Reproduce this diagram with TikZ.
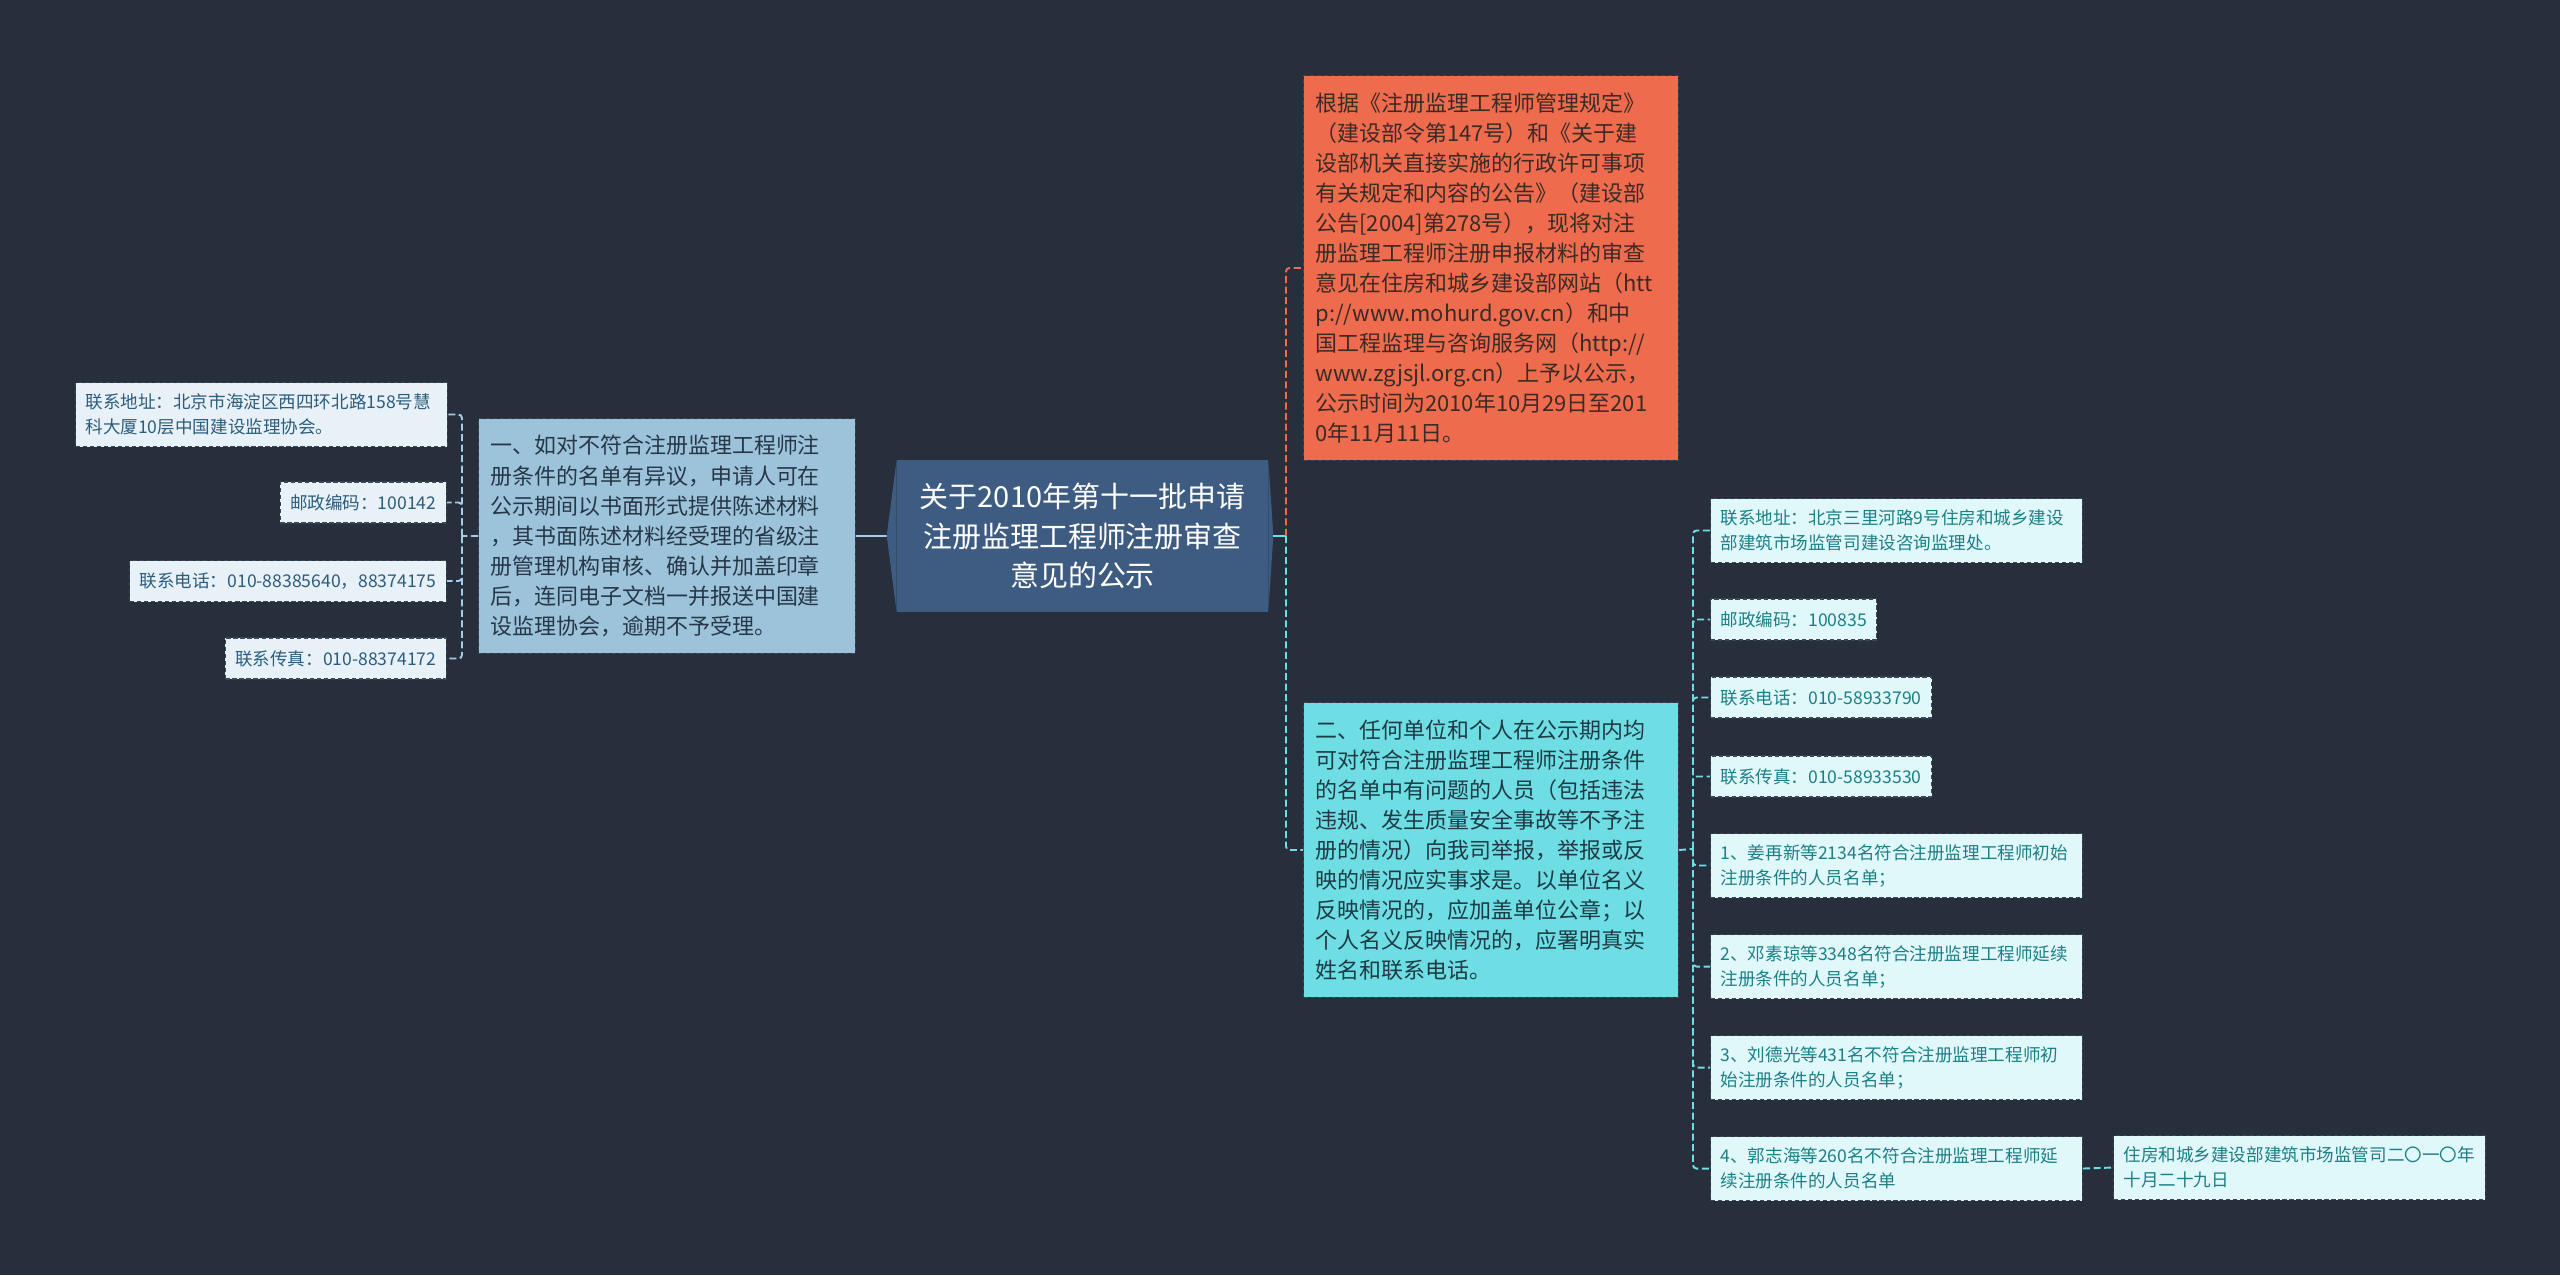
\documentclass[tikz,border=0pt]{standalone}
\usepackage{fontspec}
\newfontfamily\cjk{Noto Sans CJK SC}

\definecolor{bgcol}{HTML}{272F3D}
\definecolor{rootfill}{HTML}{3E5C82}
\definecolor{basisfill}{HTML}{EE6C4D}
\definecolor{basistext}{HTML}{3B2A26}
\definecolor{appealfill}{HTML}{9DC3DB}
\definecolor{appealtext}{HTML}{263747}
\definecolor{reportfill}{HTML}{6EDDE4}
\definecolor{reporttext}{HTML}{1D3B45}
\definecolor{lleaffill}{HTML}{E8F1F7}
\definecolor{lleaftext}{HTML}{2C5C7E}
\definecolor{rleaffill}{HTML}{E0F8F9}
\definecolor{rleaftext}{HTML}{1C7F86}
\definecolor{boxedge}{HTML}{3C4655}
\definecolor{leftline}{HTML}{A6CDE6}
\definecolor{cyanline}{HTML}{6EDDE4}

\tikzset{
  box/.style={align=left, line width=0.6pt, dash pattern=on 2.5pt off 1.5pt, draw=boxedge},
  topic/.style={box, inner xsep=0.24cm, inner ysep=0.1cm, font=\cjk\fontsize{12.5}{17.1}\selectfont},
  leaf/.style={box, inner xsep=0.2cm, inner ysep=0.1cm, minimum height=0.82cm, font=\cjk\fontsize{10}{14.2}\selectfont},
  lleaf/.style={leaf, fill=lleaffill, text=lleaftext},
  rleaf/.style={leaf, fill=rleaffill, text=rleaftext},
  twoline/.style={text width=7.04cm, minimum height=1.28cm, anchor=north west},
  link/.style={line width=1.1pt, dash pattern=on 4pt off 2pt, rounded corners=2pt},
}

\begin{document}
\begin{tikzpicture}[x=0.02cm,y=-0.02cm]
% Canvas
\fill[bgcol] (0,0) rectangle (2560,1275);
\useasboundingbox (0,0) rectangle (2560,1275);
% Central title, with pointed ends
\node[fill=rootfill, text=white, align=center, inner sep=0, minimum width=7.42cm, minimum height=3.04cm,
  font=\cjk\fontsize{16.5}{22.7}\selectfont] (notice) at (1082.5,536)
  {关于2010年第十一批申请\\注册监理工程师注册审查\\意见的公示};
\fill[rootfill] (notice.north west) -- ++(-10,76) -- (notice.south west) -- cycle;
\fill[rootfill] (notice.north east) -- ++(5,76) -- (notice.south east) -- cycle;
\coordinate (noticeL) at ([xshift=-0.2cm]notice.west);
\coordinate (noticeR) at ([xshift=0.1cm]notice.east);
% Branch points
\coordinate (lbus) at (462,536);
\coordinate (rbus) at (1286,536);
\coordinate (cbus) at (1693,849);
% Three topics
\node[topic, fill=basisfill, text=basistext, text width=7.02cm, minimum height=7.7cm, anchor=north west] (basis) at (1303,75)
  {根据《注册监理工程师管理规定》\\
  （建设部令第147号）和《关于建\\
  设部机关直接实施的行政许可事项\\
  有关规定和内容的公告》（建设部\\
  公告[2004]第278号），现将对注\\
  册监理工程师注册申报材料的审查\\
  意见在住房和城乡建设部网站（htt\\
  p://www.mohurd.gov.cn）和中\\
  国工程监理与咨询服务网（http://\\
  www.zgjsjl.org.cn）上予以公示，\\
  公示时间为2010年10月29日至201\\
  0年11月11日。};
\node[topic, fill=appealfill, text=appealtext, text width=7.06cm, minimum height=4.7cm, anchor=north west] (appeal) at (478,418)
  {一、如对不符合注册监理工程师注\\
  册条件的名单有异议，申请人可在\\
  公示期间以书面形式提供陈述材料\\
  ，其书面陈述材料经受理的省级注\\
  册管理机构审核、确认并加盖印章\\
  后，连同电子文档一并报送中国建\\
  设监理协会，逾期不予受理。};
\node[topic, fill=reportfill, text=reporttext, text width=7.02cm, minimum height=5.9cm, anchor=north west] (report) at (1303,702)
  {二、任何单位和个人在公示期内均\\
  可对符合注册监理工程师注册条件\\
  的名单中有问题的人员（包括违法\\
  违规、发生质量安全事故等不予注\\
  册的情况）向我司举报，举报或反\\
  映的情况应实事求是。以单位名义\\
  反映情况的，应加盖单位公章；以\\
  个人名义反映情况的，应署明真实\\
  姓名和联系电话。};
% Left leaves
\node[lleaf, twoline] (laddr) at (75,382) {联系地址：北京市海淀区西四环北路158号慧\\科大厦10层中国建设监理协会。};
\node[lleaf, anchor=east] (lzip) at (447,502.5) {邮政编码：100142};
\node[lleaf, anchor=east] (ltel) at (447,581) {联系电话：010-88385640，88374175};
\node[lleaf, anchor=east] (lfax) at (447,658.5) {联系传真：010-88374172};
% Right leaves
\node[rleaf, twoline] (raddr) at (1710,498) {联系地址：北京三里河路9号住房和城乡建设\\部建筑市场监管司建设咨询监理处。};
\node[rleaf, anchor=west] (rzip) at (1710,619.5) {邮政编码：100835};
\node[rleaf, anchor=west] (rtel) at (1710,697.5) {联系电话：010-58933790};
\node[rleaf, anchor=west] (rfax) at (1710,776.5) {联系传真：010-58933530};
\node[rleaf, twoline] (list1) at (1710,833) {1、姜再新等2134名符合注册监理工程师初始\\注册条件的人员名单；};
\node[rleaf, twoline] (list2) at (1710,934) {2、邓素琼等3348名符合注册监理工程师延续\\注册条件的人员名单；};
\node[rleaf, twoline] (list3) at (1710,1035) {3、刘德光等431名不符合注册监理工程师初\\始注册条件的人员名单；};
\node[rleaf, twoline] (list4) at (1710,1136) {4、郭志海等260名不符合注册监理工程师延\\续注册条件的人员名单};
\node[rleaf, twoline] (sign) at (2113,1135) {住房和城乡建设部建筑市场监管司二〇一〇年\\十月二十九日};
% Connectors on the left
\draw[link, solid, draw=leftline] (appeal.east) -- (noticeL);
\draw[link, draw=leftline] (appeal.west) -- (lbus);
\foreach \n in {laddr,lzip,ltel,lfax}
  \draw[link, draw=leftline] (lbus) |- (\n.east);
% Connectors on the right
\draw[link, solid, draw=cyanline] (noticeR) -- (rbus);
\draw[link, draw=basisfill] (rbus) |- (basis.west);
\draw[link, draw=cyanline] (rbus) |- (report.west);
\draw[link, draw=cyanline] (report.east) -- (cbus);
\foreach \n in {raddr,rzip,rtel,rfax,list1,list2,list3,list4}
  \draw[link, draw=cyanline] (cbus) |- (\n.west);
\draw[link, draw=cyanline] (list4.east) -- (sign.west);
\end{tikzpicture}
\end{document}
